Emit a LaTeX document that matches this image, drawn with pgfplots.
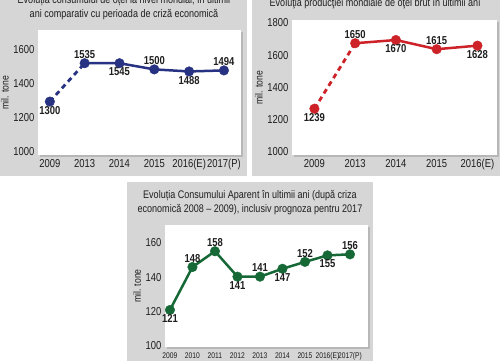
\documentclass[border=0pt]{standalone}
\usepackage{pgfplots}
\pgfplotsset{compat=1.18}
\usepackage{fontspec}
\setmainfont{Liberation Sans}[FakeStretch=0.82]
\usetikzlibrary{shadows}
\definecolor{navy}{RGB}{40,50,130}
\definecolor{redc}{RGB}{205,35,40}
\definecolor{greenc}{RGB}{22,105,55}
\definecolor{panel}{RGB}{214,214,214}
\definecolor{txt}{RGB}{30,30,30}

\pgfplotsset{
  panelaxis/.style={
    scale only axis,
    anchor=south west,
    axis background/.style={fill=white, drop shadow={opacity=0.35, shadow xshift=1.5pt, shadow yshift=-1.5pt}},
    axis line style={draw=none},
    tick style={draw=none},
    ylabel={mil. tone},
    ylabel style={font=\fontsize{10.5}{11}\selectfont, text=txt},
    ticklabel style={font=\fontsize{11.5}{12}\selectfont, text=txt},
    /pgf/number format/assume math mode=true,
    /pgf/number format/1000 sep={},
    clip=false,
  },
  labsabove/.style={
    only marks, mark=*, mark size=4.8pt,
    nodes near coords, point meta=explicit symbolic,
    every node near coord/.append style={anchor=south, font=\bfseries\fontsize{11.5}{12}\selectfont, text=txt, inner sep=4.5pt},
  },
  labsbelow/.style={
    only marks, mark=*, mark size=4.8pt,
    nodes near coords, point meta=explicit symbolic,
    every node near coord/.append style={anchor=north, font=\bfseries\fontsize{11.5}{12}\selectfont, text=txt, inner sep=4.5pt},
  },
}

\begin{document}
\begin{tikzpicture}
\useasboundingbox (0pt,0pt) rectangle (500pt,360pt);
\clip (0pt,0pt) rectangle (500pt,360pt);
\fill[white] (0pt,0pt) rectangle (500pt,360pt);
\fill[panel] (0pt,184pt) rectangle (247pt,362pt);
\fill[panel] (252pt,184pt) rectangle (502pt,362pt);
\fill[panel] (127pt,-2pt) rectangle (373pt,178pt);

\node[font=\fontsize{11}{14}\selectfont, text=txt, align=center] at (124pt,352pt)
  {Evoluția consumului de oțel la nivel mondial, în ultimii\\ ani comparativ cu perioada de criză economică};
\node[font=\fontsize{11}{14}\selectfont, text=txt] at (375pt,356pt)
  {Evoluţia producţiei mondiale de oţel brut în ultimii ani};
\node[font=\fontsize{11}{14}\selectfont, text=txt, align=center] at (250pt,157pt)
  {Evoluția Consumului Aparent în ultimii ani (după criza\\ economică 2008 – 2009), inclusiv prognoza pentru 2017};

% Panel 1
\begin{axis}[panelaxis, at={(38pt,205pt)}, width=203pt, height=125pt,
  xmin=-0.34, xmax=5.49, ymin=982, ymax=1712,
  ytick={1000,1200,1400,1600},
  xtick={0,1,2,3,4,5},
  xticklabels={2009,2013,2014,2015,2016(E),2017(P)},
  xticklabel style={yshift=-1pt},
  ylabel style={yshift=-2pt}]
\addplot[navy, line width=2.8pt, dash pattern=on 5pt off 4pt] coordinates {(0,1294) (1,1518)};
\addplot[navy, line width=2.5pt] coordinates {(1,1518) (2,1518) (3,1482) (4,1470) (5,1476)};
\addplot[navy, labsbelow] coordinates {(0,1294) [1300] (2,1518) [1545] (4,1470) [1488]};
\addplot[navy, labsabove] coordinates {(1,1518) [1535] (3,1482) [1500] (5,1476) [1494]};
\end{axis}

% Panel 2
\begin{axis}[panelaxis, at={(292pt,205pt)}, width=205pt, height=135pt,
  xmin=-0.55, xmax=4.48, ymin=981, ymax=1818,
  ytick={1000,1200,1400,1600,1800},
  xtick={0,1,2,3,4},
  xticklabels={2009,2013,2014,2015,2016(E)},
  xticklabel style={yshift=-1pt},
  ylabel style={yshift=-2pt}]
\addplot[redc, line width=2.8pt, dash pattern=on 5pt off 4pt] coordinates {(0,1268) (1,1674)};
\addplot[redc, line width=2.5pt] coordinates {(1,1674) (2,1694) (3,1637) (4,1659)};
\addplot[redc, labsbelow] coordinates {(0,1268) [1239] (2,1694) [1670] (4,1659) [1628]};
\addplot[redc, labsabove] coordinates {(1,1674) [1650] (3,1637) [1615]};
\end{axis}

% Panel 3
\begin{axis}[panelaxis, at={(165pt,13pt)}, width=203pt, height=122pt,
  xmin=-0.22, xmax=8.8, ymin=99.4, ymax=170.5,
  ytick={100,120,140,160},
  xtick={0,1,2,3,4,5,6,7,8},
  xticklabels={2009,2010,2011,2012,2013,2014,2015,2016(E),2017(P)},
  xticklabel style={font=\fontsize{8.2}{9}\selectfont, yshift=-2pt},
  ylabel style={yshift=-2pt}]
\addplot[greenc, line width=2.5pt] coordinates {(0,121) (1,146) (2,155.2) (3,140.4) (4,140.4) (5,145) (6,149) (7,152.8) (8,153.4)};
\addplot[greenc, labsbelow] coordinates {(0,121) [121] (3,140.4) [141] (5,145) [147] (7,152.8) [155]};
\addplot[greenc, labsabove] coordinates {(1,146) [148] (2,155.2) [158] (4,140.4) [141] (6,149) [152] (8,153.4) [156]};
\end{axis}
\end{tikzpicture}
\end{document}
